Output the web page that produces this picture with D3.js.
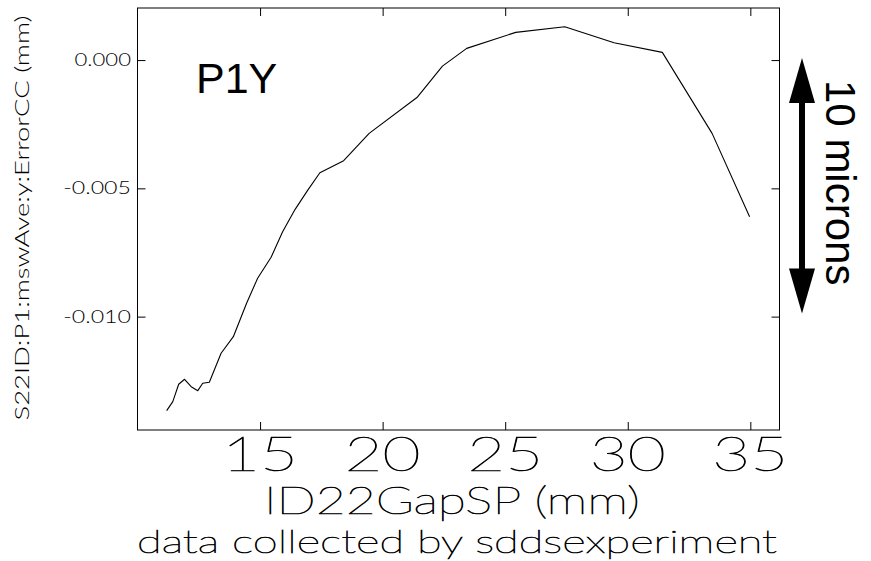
<!DOCTYPE html>
<html>
<head>
<meta charset="utf-8">
<script src="https://cdn.jsdelivr.net/npm/d3@7/dist/d3.min.js"></script>
<style>
  html, body { margin: 0; padding: 0; background: #fff; }
  svg { display: block; }
  .thin { font-family: Lato, "DejaVu Sans", sans-serif; font-weight: 100; fill: #000; stroke: #000; stroke-width: 0.7px; }
  .light { font-family: Lato, "DejaVu Sans", sans-serif; font-weight: 300; fill: #000; }
  .arial { font-family: "Liberation Sans", Arial, sans-serif; fill: #000; }
</style>
</head>
<body>
<svg id="chart" width="871" height="561"></svg>
<script>
// ---- data ----
const gapSP = [11.19, 11.44, 11.68, 11.92, 12.19, 12.46, 12.66, 12.93, 13.41, 13.91,
               14.45, 14.90, 15.45, 15.92, 16.43, 16.94, 17.44, 18.41, 19.45, 21.40,
               22.44, 23.43, 25.43, 27.43, 29.44, 31.41, 33.44, 34.97];
const errorCC = [-0.013667, -0.013316, -0.012638, -0.012443, -0.012731, -0.012887, -0.012599, -0.012560,
                 -0.011430, -0.010783, -0.009481, -0.008507, -0.007689, -0.006691, -0.005818, -0.005078,
                 -0.004392, -0.003924, -0.002857, -0.001461, -0.000234, 0.000456, 0.001079, 0.001298,
                 0.000674, 0.000300, -0.002857, -0.006107];
const xTicks = [15, 20, 25, 30, 35];
const yTicks = [0.000, -0.005, -0.010];
const xTickLabels = ["15", "20", "25", "30", "35"];
const yTickLabels = ["0.000", "-0.005", "-0.010"];
const xLabel = "ID22GapSP (mm)";
const yLabel = "S22ID:P1:mswAve:y:ErrorCC (mm)";
const footer = "data collected by sddsexperiment";
const panelTitle = "P1Y";
const scaleNote = "10 microns";
const scaleBar = [0.000, -0.010];

// ---- layout ----
const L = 137.5, R = 779.5, T = 8, B = 430;
const svg = d3.select("#chart");

const x = d3.scaleLinear().domain([10, 36.19]).range([L, R]);
const y = d3.scaleLinear().domain([-0.01442, 0.00203]).range([B, T]);

// frame
svg.append("rect").attr("x", L).attr("y", T).attr("width", R - L).attr("height", B - T)
  .attr("fill", "none").attr("stroke", "#000").attr("stroke-width", 1);

// ticks via axes (inside)
function tickAxis(axis, tx, ty) {
  const g = svg.append("g").attr("transform", `translate(${tx},${ty})`).call(axis);
  g.select(".domain").remove();
  g.selectAll("text").remove();
  g.selectAll("line").attr("stroke", "#000").attr("stroke-width", 1);
}
tickAxis(d3.axisBottom(x).tickValues(xTicks).tickSize(-8), 0, B);
tickAxis(d3.axisTop(x).tickValues(xTicks).tickSize(-8), 0, T);
tickAxis(d3.axisLeft(y).tickValues(yTicks).tickSize(-8), L, 0);
tickAxis(d3.axisRight(y).tickValues(yTicks).tickSize(-8), R, 0);

// x tick labels
svg.selectAll(".xtl").data(xTicks).enter().append("text")
  .attr("class", "thin xtl")
  .attr("x", d => x(d)).attr("y", 471)
  .attr("text-anchor", "middle")
  .attr("font-size", 48)
  .attr("textLength", 76).attr("lengthAdjust", "spacingAndGlyphs")
  .text((d, i) => xTickLabels[i]);

// y tick labels
svg.selectAll(".ytl").data(yTicks).enter().append("text")
  .attr("class", "light ytl")
  .attr("x", 131).attr("y", d => y(d) + 6)
  .attr("text-anchor", "end")
  .attr("font-size", 17)
  .attr("textLength", (d, i) => yTickLabels[i].length * 11.3).attr("lengthAdjust", "spacingAndGlyphs")
  .text((d, i) => yTickLabels[i]);

// axis labels
svg.append("text").attr("class", "thin")
  .attr("x", 452).attr("y", 514).attr("text-anchor", "middle")
  .attr("font-size", 38).attr("textLength", 376).attr("lengthAdjust", "spacingAndGlyphs")
  .text(xLabel);

svg.append("text").attr("class", "thin")
  .attr("x", 457).attr("y", 553).attr("text-anchor", "middle")
  .attr("font-size", 32).attr("textLength", 640).attr("lengthAdjust", "spacingAndGlyphs")
  .text(footer);

svg.append("text").attr("class", "light")
  .attr("transform", "translate(29,218) rotate(-90)")
  .attr("text-anchor", "middle")
  .attr("font-size", 19).attr("textLength", 405).attr("lengthAdjust", "spacingAndGlyphs")
  .text(yLabel);

// data line
const line = d3.line().x((d, i) => x(gapSP[i])).y(d => y(d));
svg.append("path").datum(errorCC)
  .attr("d", line).attr("fill", "none").attr("stroke", "#000").attr("stroke-width", 1.1)
  .attr("stroke-linejoin", "round");

// panel title
svg.append("text").attr("class", "arial")
  .attr("x", 196).attr("y", 93).attr("font-size", 43).text(panelTitle);

// scale arrow
const ax = 802;
const yTop = y(scaleBar[0]) - 2, yBot = y(scaleBar[1]) - 3;
const headLen = 45, headHalf = 13;
svg.append("line").attr("x1", ax).attr("x2", ax)
  .attr("y1", yTop + headLen - 2).attr("y2", yBot - headLen + 2)
  .attr("stroke", "#000").attr("stroke-width", 6);
svg.append("path")
  .attr("d", `M${ax},${yTop} L${ax + headHalf},${yTop + headLen} L${ax - headHalf},${yTop + headLen} Z`)
  .attr("fill", "#000");
svg.append("path")
  .attr("d", `M${ax},${yBot} L${ax + headHalf},${yBot - headLen} L${ax - headHalf},${yBot - headLen} Z`)
  .attr("fill", "#000");

svg.append("text").attr("class", "arial")
  .attr("transform", "translate(826,80) rotate(90)")
  .attr("font-size", 42).text(scaleNote);
</script>
</body>
</html>
